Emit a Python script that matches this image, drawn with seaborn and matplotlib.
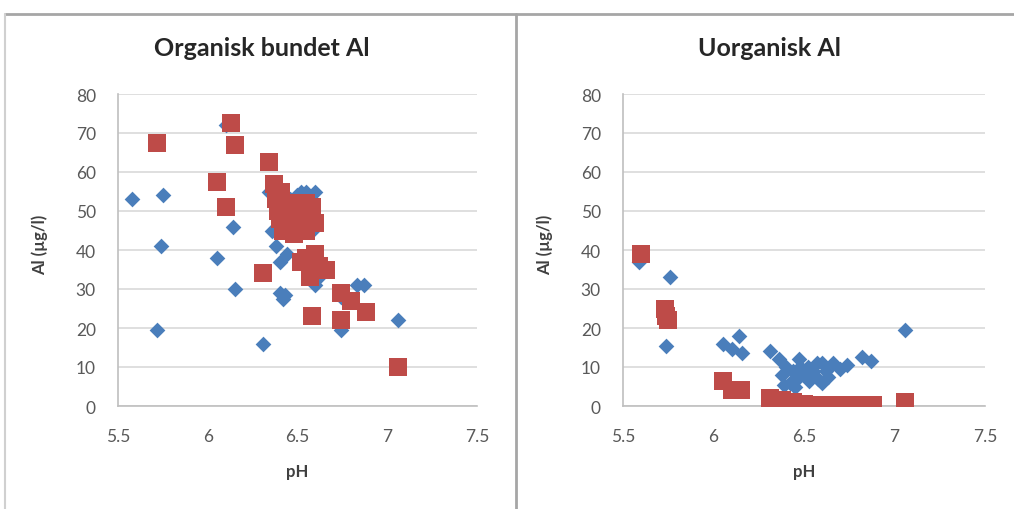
import matplotlib
matplotlib.use("Agg")
import matplotlib.pyplot as plt
import seaborn as sns
from matplotlib.lines import Line2D

# ---------------- data ----------------
panel_titles = ["Organisk bundet Al", "Uorganisk Al"]
x_label = "pH"
y_label = "Al (µg/l)"
x_ticks = [5.5, 6, 6.5, 7, 7.5]
x_tick_labels = ["5.5", "6", "6.5", "7", "7.5"]
y_ticks = [0, 10, 20, 30, 40, 50, 60, 70, 80]

# Left panel - series 1 (blue diamonds)
org_ph_1 = [5.58, 5.72, 5.74, 5.75, 6.05, 6.10, 6.14, 6.15, 6.31, 6.34, 6.36, 6.38,
            6.40, 6.40, 6.42, 6.43, 6.44, 6.45, 6.46, 6.48, 6.50, 6.50, 6.52, 6.55,
            6.55, 6.58, 6.60, 6.60, 6.62, 6.74, 6.74, 6.83, 6.87, 7.06]
org_al_1 = [53, 19.5, 41, 54, 38, 72, 46, 30, 16, 55, 45, 41,
            29, 37, 27.5, 28.5, 39, 48, 53, 52, 54, 44, 55, 55,
            50, 45, 55, 31, 33, 19.5, 28, 31, 31, 22]

# Left panel - series 2 (red squares)
org_ph_2 = [5.72, 6.05, 6.10, 6.13, 6.15, 6.31, 6.34, 6.37, 6.38, 6.39, 6.40, 6.41,
            6.42, 6.44, 6.45, 6.46, 6.48, 6.49, 6.50, 6.51, 6.52, 6.53, 6.55, 6.55,
            6.57, 6.58, 6.58, 6.60, 6.55, 6.52, 6.57, 6.60, 6.62, 6.66, 6.58, 6.74,
            6.74, 6.80, 6.88, 7.06]
org_al_2 = [67.5, 57.5, 51, 72.5, 67, 34, 62.5, 57, 53, 50, 48, 55,
            45, 52, 47, 50, 44, 49, 52, 46, 50, 48, 45, 52,
            49, 51, 38, 47, 38, 37, 33, 39, 36, 35, 23, 29,
            22, 27, 24, 10]

# Right panel - series 1 (blue diamonds)
ino_ph_1 = [5.59, 5.74, 5.76, 6.05, 6.10, 6.14, 6.16, 6.31, 6.36, 6.38, 6.40, 6.42,
            6.44, 6.46, 6.48, 6.50, 6.52, 6.55, 6.57, 6.58, 6.60, 6.60, 6.62, 6.66,
            6.74, 6.82, 6.87, 7.06, 6.39, 6.45, 6.53, 6.47, 6.63, 6.70]
ino_al_1 = [37, 15.5, 33, 16, 14.5, 18, 13.5, 14, 12, 8, 10, 6,
            9, 7, 10, 8, 10, 9, 11, 7, 6, 11, 9, 11,
            10.5, 12.5, 11.5, 19.5, 5.5, 5, 6.5, 12, 7.5, 9.5]

# Right panel - series 2 (red squares)
ino_ph_2 = [5.60, 5.73, 5.74, 5.75, 6.05, 6.10, 6.15, 6.31, 6.34, 6.36, 6.38, 6.40,
            6.42, 6.44, 6.46, 6.50, 6.55, 6.60, 6.65, 6.70, 6.75, 6.80, 6.85, 6.88,
            7.06]
ino_al_2 = [39, 25, 23, 22, 6.5, 4, 4, 2, 1.5, 1, 1.5, 1,
            0.5, 1, 0.5, 0.5, 0.3, 0.3, 0.2, 0.2, 0.2, 0.2, 0.2, 0.3,
            1]

blue = "#4A7EBB"
red = "#BE4B48"

# ---------------- figure ----------------
sns.set_theme(style="white")
plt.rcParams["font.family"] = ["Lato", "DejaVu Sans"]

fig = plt.figure(figsize=(10.14, 5.10), dpi=100)
fig.patch.set_facecolor("white")

W, H = 1014.0, 510.0
ax_l = fig.add_axes([118 / W, 1 - 407 / H, 359 / W, 312 / H])
ax_r = fig.add_axes([623 / W, 1 - 407 / H, 362 / W, 312 / H])

panels = [
    (ax_l, org_ph_1, org_al_1, org_ph_2, org_al_2, 359.0),
    (ax_r, ino_ph_1, ino_al_1, ino_ph_2, ino_al_2, 362.0),
]

for ax, px1, py1, px2, py2, wpx in panels:
    sns.scatterplot(x=px1, y=py1, marker="D", s=64, color=blue, linewidth=0,
                    ax=ax, zorder=3)
    sns.scatterplot(x=px2, y=py2, marker="s", s=150, color=red, linewidth=0,
                    ax=ax, zorder=4)
    ax.set_xlim(5.5, 7.5)
    ax.set_ylim(0, 80)
    ax.set_xticks(x_ticks)
    ax.set_xticklabels(x_tick_labels)
    ax.set_yticks(y_ticks)
    ax.yaxis.grid(True, color="#D9D9D9", linewidth=1.2)
    ax.xaxis.grid(False)
    ax.set_axisbelow(True)
    for side in ["top", "right"]:
        ax.spines[side].set_visible(False)
    for side in ["left", "bottom"]:
        ax.spines[side].set_color("#BFBFBF")
        ax.spines[side].set_linewidth(1.2)
    ax.tick_params(axis="both", length=0, labelsize=12.5, colors="#595959")
    ax.tick_params(axis="x", pad=16)
    ax.tick_params(axis="y", pad=16)
    ax.set_xlabel(x_label, fontsize=12, fontweight="bold", color="#404040")
    ax.set_ylabel(y_label, fontsize=12, fontweight="bold", color="#404040")
    ax.xaxis.set_label_coords(0.5, -57 / 312.0)
    ax.yaxis.set_label_coords(-70 / wpx, 0.52)
    ax.set_facecolor("white")

# titles
fig.text(262 / W, 1 - 48 / H, panel_titles[0], ha="center", va="center",
         fontsize=18, fontweight="bold", color="#262626")
fig.text(770 / W, 1 - 48 / H, panel_titles[1], ha="center", va="center",
         fontsize=18, fontweight="bold", color="#262626")

# chart frames
frame_col = "#A6A6A6"
fig.add_artist(Line2D([5 / W, 1], [1 - 15 / H, 1 - 15 / H], color=frame_col, lw=2,
                      transform=fig.transFigure))
fig.add_artist(Line2D([5 / W, 5 / W], [0, 1 - 15 / H], color="#D0D0D0", lw=1.5,
                      transform=fig.transFigure))
fig.add_artist(Line2D([516 / W, 516 / W], [0, 1 - 15 / H], color=frame_col, lw=2,
                      transform=fig.transFigure))

fig.savefig("out.png", dpi=100, facecolor="white")
